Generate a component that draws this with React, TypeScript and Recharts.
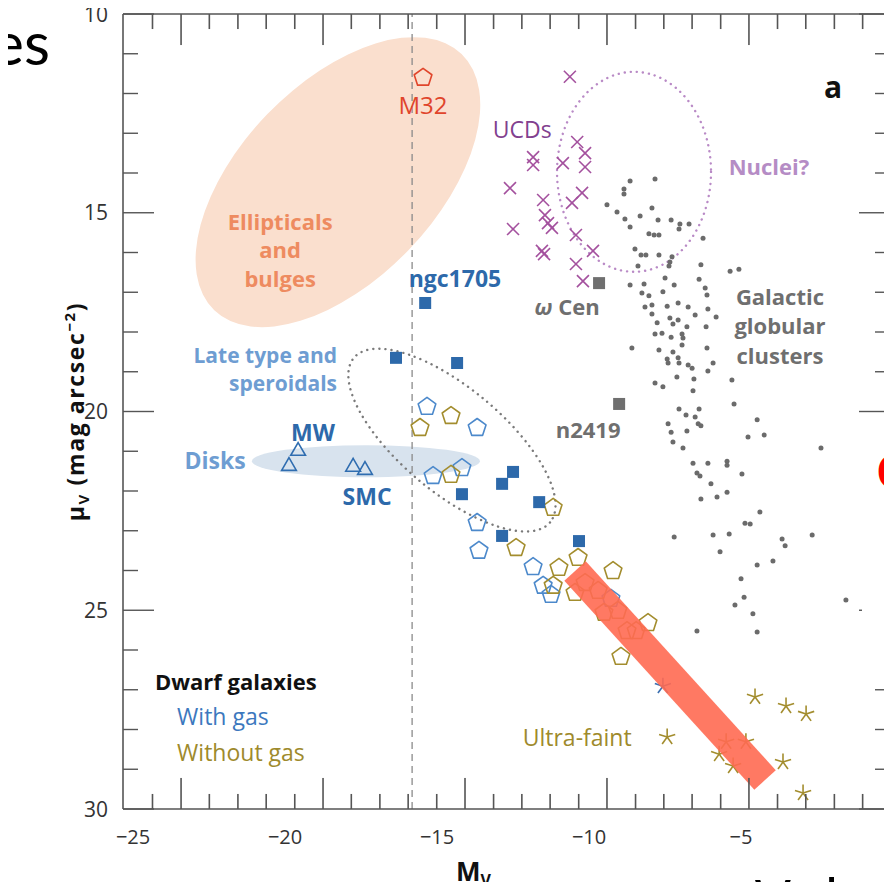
import React from 'react';
import { ScatterChart, Scatter, XAxis, YAxis, ReferenceLine, ReferenceDot } from 'recharts';

const FONT = "'Open Sans', 'DejaVu Sans', sans-serif";
const FRAME = '#555555';

// ---- axes ----
const X_DOMAIN: [number, number] = [-25.33, -0.1];
const X_LABELS = [-25, -20, -15, -10, -5, 0];
// frame tick marks along M_V (long and short), drawn on the top and bottom frame
const X_FRAME_MAJOR = [-23.42, -18.75, -14.08, -9.41, -4.74];
const X_FRAME_MINOR = [
  -24.36, -22.49, -21.55, -20.62, -19.68, -17.82, -16.88, -15.95, -15.01, -13.14, -12.21, -11.28, -10.34,
  -8.47, -7.54, -6.61, -5.67, -3.8, -2.87, -1.93, -1.0,
];
const Y_TOP = 10;
const Y_BOTTOM = 30;
const Y_TICKS = [10, 11, 12, 13, 14, 15, 16, 17, 18, 19, 20, 21, 22, 23, 24, 25, 26, 27, 28, 29, 30];

// ---- data: [M_V, mu_V] ----
const globularClusters: [number, number][] = [
  [-8.65, 14.2], [-7.83, 14.15], [-8.85, 14.4], [-8.85, 14.53], [-9.41, 14.8], [-9.08, 14.98], [-8.32, 15.08], [-7.93, 14.88],
  [-8.82, 15.16], [-7.73, 15.18], [-7.3, 15.18], [-8.65, 15.36], [-7.01, 15.28], [-6.71, 15.28], [-7.04, 15.41], [-8.03, 15.53],
  [-7.86, 15.56], [-7.7, 15.56], [-6.25, 15.64], [-8.49, 15.91], [-8.29, 16.06], [-8.13, 16.06], [-7.7, 16.06], [-7.27, 16.11],
  [-7.34, 16.24], [-7.37, 16.34], [-8.39, 16.34], [-6.32, 16.31], [-5.36, 16.47], [-5.07, 16.42], [-7.5, 16.64], [-6.38, 16.67],
  [-8.65, 16.82], [-8.19, 16.79], [-7.2, 16.82], [-6.18, 16.89], [-8.26, 17.02], [-7.57, 16.99], [-6.12, 17.07], [-8.03, 17.09],
  [-8.16, 17.37], [-7.93, 17.32], [-7.93, 17.55], [-7.43, 17.35], [-7.07, 17.27], [-6.74, 17.37], [-6.51, 17.57], [-6.09, 17.42],
  [-5.82, 17.62], [-7.76, 17.77], [-7.34, 17.65], [-7.24, 17.8], [-7.07, 17.7], [-6.78, 17.87], [-6.15, 17.87], [-7.83, 18.05],
  [-7.6, 18.03], [-7.3, 18.13], [-6.94, 18.05], [-6.91, 18.15], [-8.59, 18.4], [-7.7, 18.45], [-7.24, 18.5], [-6.94, 18.33],
  [-6.12, 18.4], [-7.43, 18.68], [-7.4, 18.78], [-7.07, 18.65], [-7.04, 18.78], [-6.74, 18.83], [-6.61, 18.91], [-5.92, 18.78],
  [-6.09, 18.98], [-7.11, 19.13], [-6.55, 19.18], [-5.3, 19.21], [-7.83, 19.28], [-7.57, 19.38], [-6.58, 19.48], [-5.23, 19.81],
  [-7.04, 19.94], [-6.81, 20.09], [-6.38, 19.94], [-6.51, 20.14], [-6.41, 20.31], [-6.32, 20.36], [-7.4, 20.31], [-7.3, 20.52],
  [-7.24, 20.77], [-6.91, 20.92], [-6.78, 20.49], [-4.47, 20.21], [-4.77, 20.64], [-4.24, 20.59], [-2.37, 20.92], [-6.58, 21.3],
  [-6.09, 21.3], [-5.46, 21.25], [-5.46, 21.35], [-6.45, 21.55], [-6.35, 21.62], [-4.97, 21.57], [-5.99, 21.82], [-5.46, 22.03],
  [-5.79, 22.15], [-6.32, 22.2], [-4.38, 22.53], [-4.87, 22.81], [-4.7, 22.83], [-7.2, 23.16], [-5.92, 23.11], [-5.39, 23.08],
  [-3.65, 23.21], [-3.55, 23.38], [-2.66, 23.11], [-5.69, 23.53], [-4.47, 23.86], [-3.95, 23.76], [-5.0, 24.21], [-4.9, 24.67],
  [-1.55, 24.74], [-5.2, 24.87], [-4.61, 25.09], [-6.45, 25.52], [-4.47, 25.55],
];

const ucds: [number, number][] = [
  [-10.63, 11.58], [-10.39, 13.22], [-10.13, 13.5], [-11.84, 13.6], [-11.84, 13.8], [-10.86, 13.75], [-10.13, 13.85],
  [-12.6, 14.38], [-11.51, 14.68], [-10.23, 14.5], [-10.56, 14.75], [-11.45, 15.06], [-11.35, 15.26], [-11.22, 15.38],
  [-12.5, 15.41], [-10.43, 15.56], [-11.55, 15.96], [-11.48, 16.04], [-9.87, 15.96], [-10.43, 16.29], [-10.2, 16.72],
];

const gasRichSquares: [number, number][] = [
  [-15.39, 17.27], [-16.35, 18.65], [-14.34, 18.78], [-12.5, 21.52], [-12.86, 21.82], [-14.18, 22.08], [-11.64, 22.28],
  [-12.86, 23.13], [-10.33, 23.26],
];

const namedClusters: [number, number][] = [
  [-9.67, 16.77], // omega Cen
  [-9.01, 19.81], // NGC 2419
];

const gasRichPentagons: [number, number][] = [
  [-15.33, 19.86], [-13.68, 20.39], [-14.18, 21.4], [-15.13, 21.6], [-13.68, 22.78], [-13.62, 23.48], [-11.84, 23.89],
  [-11.51, 24.36], [-11.25, 24.59], [-9.28, 24.69],
];

const gasPoorPentagons: [number, number][] = [
  [-15.56, 20.39], [-14.54, 20.09], [-14.54, 21.57], [-11.18, 22.4], [-12.4, 23.41], [-10.99, 23.91], [-10.36, 23.66],
  [-9.21, 23.99], [-11.18, 24.36], [-10.46, 24.54], [-10.13, 24.29], [-9.7, 24.49], [-9.51, 25.04], [-9.05, 24.99],
  [-8.75, 25.5], [-8.45, 25.5], [-8.06, 25.3], [-8.95, 26.15],
];

const m32: [number, number][] = [[-15.46, 11.58]];

const disks: [number, number][] = [[-19.57, 20.97], [-19.87, 21.35], [-17.76, 21.37], [-17.37, 21.45]];

const ultraFaintGasPoor: [number, number][] = [
  [-4.54, 27.18], [-3.52, 27.41], [-2.86, 27.61], [-7.43, 28.19], [-5.49, 28.31], [-4.84, 28.31], [-5.72, 28.62],
  [-5.26, 28.92], [-3.62, 28.82], [-2.96, 29.6],
];
const ultraFaintGasRich: [number, number][] = [[-7.57, 26.91]];

// region centres (M_V, mu_V)
const REG_ELLIPTICALS = { x: -18.26, y: 14.23 };
const REG_NUCLEI = { x: -8.52, y: 13.97 };
const REG_LATE = { x: -14.51, y: 20.72 };
const REG_DISKS = { x: -17.34, y: 21.25 };
const MV_LIMIT = -15.82;
const BAND = [{ x: -10.46, y: 24.01 }, { x: -4.21, y: 29.27 }];

// annotations: [text, M_V, mu_V, style]
const NOTES: [string, number, number, string][] = [
  ['M32', -15.46, 12.29, 'm32'],
  ['Ellipticals', -20.16, 15.23, 'ell'],
  ['and', -20.16, 15.94, 'ell'],
  ['bulges', -20.16, 16.67, 'ell'],
  ['UCDs', -12.2, 12.92, 'ucd'],
  ['Nuclei?', -4.08, 13.85, 'nuc'],
  ['a', -1.97, 11.84, 'panel'],
  ['ngc1705', -14.41, 16.67, 'blueBold'],
  ['ω Cen', -10.72, 17.37, 'grayBold'],
  ['Galactic', -3.72, 17.12, 'grayBold'],
  ['globular', -3.72, 17.85, 'grayBold'],
  ['clusters', -3.72, 18.6, 'grayBold'],
  ['n2419', -10.03, 20.47, 'grayBold'],
  ['Late type and', -18.29, 18.6, 'lightBlueEnd'],
  ['speroidals', -18.29, 19.3, 'lightBlueEnd'],
  ['MW', -19.08, 20.54, 'blueBold'],
  ['Disks', -22.3, 21.25, 'lightBlue'],
  ['SMC', -17.3, 22.15, 'blueBold'],
  ['Dwarf galaxies', -24.28, 26.81, 'legendHead'],
  ['With gas', -23.55, 27.69, 'legendGas'],
  ['Without gas', -23.55, 28.59, 'legendNoGas'],
  ['Ultra-faint', -10.39, 28.21, 'ultra'],
];

const NOTE_STYLE: Record<string, { color: string; weight: number; size: number; anchor: string }> = {
  m32: { color: '#E0452B', weight: 500, size: 24, anchor: 'middle' },
  ell: { color: '#EE8B60', weight: 700, size: 22, anchor: 'middle' },
  ucd: { color: '#82408F', weight: 500, size: 23, anchor: 'middle' },
  nuc: { color: '#B58CC5', weight: 700, size: 22, anchor: 'middle' },
  panel: { color: '#111111', weight: 700, size: 30, anchor: 'middle' },
  blueBold: { color: '#2D69AA', weight: 700, size: 23, anchor: 'middle' },
  grayBold: { color: '#6F6F6F', weight: 700, size: 22, anchor: 'middle' },
  lightBlueEnd: { color: '#6E9DD2', weight: 700, size: 21, anchor: 'end' },
  lightBlue: { color: '#6E9DD2', weight: 700, size: 23, anchor: 'middle' },
  legendHead: { color: '#111111', weight: 700, size: 22, anchor: 'start' },
  legendGas: { color: '#3C78BE', weight: 400, size: 23, anchor: 'start' },
  legendNoGas: { color: '#9E8A2C', weight: 400, size: 23, anchor: 'start' },
  ultra: { color: '#9E8A2C', weight: 400, size: 23, anchor: 'middle' },
};

const toPts = (arr: [number, number][]) => arr.map(([x, y]) => ({ x, y }));

// ---- shapes ----
const polyPoints = (cx: number, cy: number, r: number, n: number) =>
  Array.from({ length: n }, (_, k) => {
    const a = ((-90 + (360 / n) * k) * Math.PI) / 180;
    return `${cx + r * Math.cos(a)},${cy + r * Math.sin(a)}`;
  }).join(' ');

const pentagon = (color: string) => (p: any) => (
  <polygon points={polyPoints(p.cx, p.cy + 0.8, 9.3, 5)} fill="none" stroke={color} strokeWidth={1.6} strokeLinejoin="round" />
);
const triangle = (color: string) => (p: any) => (
  <polygon points={polyPoints(p.cx, p.cy + 1, 8.5, 3)} fill="none" stroke={color} strokeWidth={1.6} />
);
const square = (color: string) => (p: any) => <rect x={p.cx - 6} y={p.cy - 6} width={12} height={12} fill={color} />;
const dot = (color: string) => (p: any) => <circle cx={p.cx} cy={p.cy} r={2.5} fill={color} />;
const cross = (color: string) => (p: any) => (
  <g stroke={color} strokeWidth={1.6}>
    <line x1={p.cx - 6} y1={p.cy - 6} x2={p.cx + 6} y2={p.cy + 6} />
    <line x1={p.cx - 6} y1={p.cy + 6} x2={p.cx + 6} y2={p.cy - 6} />
  </g>
);
const asterisk = (color: string) => (p: any) => (
  <g stroke={color} strokeWidth={1.6}>
    {[0, 1, 2, 3, 4].map((k) => {
      const a = ((-90 + 72 * k) * Math.PI) / 180;
      return <line key={k} x1={p.cx} y1={p.cy} x2={p.cx + 8.5 * Math.cos(a)} y2={p.cy + 8.5 * Math.sin(a)} />;
    })}
  </g>
);
// vertical stub on a frame edge, drawn as a thin filled rectangle (dir 1 = downwards, -1 = upwards)
const stubShape = (len: number, dir: number) => (p: any) => {
  const cx = Number(p.cx);
  const cy = Number(p.cy);
  if (!Number.isFinite(cx) || !Number.isFinite(cy)) return <g />;
  const y0 = dir > 0 ? cy : cy - len;
  return <rect x={cx - 0.8} y={y0} width={1.6} height={len} fill={FRAME} />;
};

// ---- ticks ----
const BottomLabel = (props: any) => {
  const { x, y, payload } = props;
  const v = payload.value;
  return (
    <text x={x} y={y + 35} textAnchor="middle" fontSize={20} fill="#333" fontFamily={FONT}>
      {v < 0 ? `\u2212${Math.abs(v)}` : `${v}`}
    </text>
  );
};
const LeftTick = (props: any) => {
  const { x, y, payload } = props;
  const major = payload.value % 5 === 0;
  return (
    <g>
      <line x1={x} x2={x + (major ? 31 : 15)} y1={y} y2={y} stroke={FRAME} strokeWidth={1.4} />
      {major && (
        <text x={x - 15} y={y} dy="0.36em" textAnchor="end" fontSize={21} fill="#333" fontFamily={FONT}>
          {payload.value}
        </text>
      )}
    </g>
  );
};
const RightTick = (props: any) => {
  const { x, y, payload } = props;
  const len = payload.value % 5 === 0 ? 31 : 15;
  return <line x1={x} x2={x - len} y1={y} y2={y} stroke={FRAME} strokeWidth={1.4} />;
};
const MvLabel = (props: any) => {
  const vb = props.viewBox || { x: 0, y: 0 };
  return (
    <text x={vb.x + 333} y={vb.y + 72} fontSize={26} fontWeight={700} fill="#111" fontFamily={FONT}>
      M<tspan fontSize={16} dy={5}>V</tspan>
    </text>
  );
};
const MuLabel = (props: any) => {
  const vb = props.viewBox || { x: 0, y: 0, height: 0 };
  const cx = vb.x + 76;
  const cy = vb.y + vb.height / 2;
  return (
    <text x={cx} y={cy} transform={`rotate(-90 ${cx} ${cy})`} textAnchor="middle" dy="0.35em" fontSize={23} letterSpacing={1.6} fontWeight={700} fill="#111" fontFamily={FONT}>
      μ<tspan fontSize={15} dy={5}>V</tspan>
      <tspan dy={-5}> (mag arcsec</tspan>
      <tspan fontSize={15} dy={-9}>−2</tspan>
      <tspan dy={9}>)</tspan>
    </text>
  );
};

const noteShape = (text: string, key: string) => (p: any) => {
  const s = NOTE_STYLE[key];
  if (text.startsWith('ω')) {
    return (
      <text x={p.cx} y={p.cy} dy="0.36em" textAnchor={s.anchor as any} fontSize={s.size} fontWeight={s.weight} fill={s.color} fontFamily={FONT}>
        <tspan fontStyle="italic">ω</tspan>
        {text.slice(1)}
      </text>
    );
  }
  return (
    <text x={p.cx} y={p.cy} dy="0.36em" textAnchor={s.anchor as any} fontSize={s.size} fontWeight={s.weight} fill={s.color} fontFamily={FONT}>
      {text}
    </text>
  );
};

const ellipseShape = (rx: number, ry: number, rot: number, style: any) => (p: any) => (
  <ellipse cx={p.cx} cy={p.cy} rx={rx} ry={ry} transform={`rotate(${rot} ${p.cx} ${p.cy})`} {...style} />
);

// stubs as notes-like reference dots, sitting a hair inside the frame
const STUBS: [number, number, number, number][] = [
  ...X_FRAME_MAJOR.map((v) => [v, Y_TOP + 0.001, 31, 1] as [number, number, number, number]),
  ...X_FRAME_MAJOR.map((v) => [v, Y_BOTTOM - 0.001, 31, -1] as [number, number, number, number]),
  ...X_FRAME_MINOR.map((v) => [v, Y_TOP + 0.001, 15, 1] as [number, number, number, number]),
  ...X_FRAME_MINOR.map((v) => [v, Y_BOTTOM - 0.001, 15, -1] as [number, number, number, number]),
];

export default function App() {
  const common = { xAxisId: 'd', yAxisId: 'l', isAnimationActive: false } as const;
  return (
    <div style={{ position: 'relative', margin: -8, width: 892, height: 890, overflow: 'hidden', background: '#fff' }}>
      <ScatterChart width={892} height={890} margin={{ top: 13, right: 1, bottom: 21, left: 0 }}>
        <ReferenceDot xAxisId="d" yAxisId="l" x={REG_ELLIPTICALS.x} y={REG_ELLIPTICALS.y} r={0} zIndex={-60}
          shape={ellipseShape(178, 98, -46, { fill: '#FADFCE' })} />
        <ReferenceDot xAxisId="d" yAxisId="l" x={REG_DISKS.x} y={REG_DISKS.y} r={0} zIndex={-60}
          shape={ellipseShape(114, 16, 0, { fill: '#D8E3EE' })} />
        <ReferenceLine xAxisId="d" yAxisId="l" x={MV_LIMIT} stroke="#8A8A8A" strokeWidth={1.3} strokeDasharray="7 5" zIndex={-40} />
        <ReferenceDot xAxisId="d" yAxisId="l" x={REG_NUCLEI.x} y={REG_NUCLEI.y} r={0} zIndex={-30}
          shape={ellipseShape(77, 100, 0, { fill: 'none', stroke: '#B98AC6', strokeWidth: 2.4, strokeDasharray: '0.1 6', strokeLinecap: 'round' })} />
        <ReferenceDot xAxisId="d" yAxisId="l" x={REG_LATE.x} y={REG_LATE.y} r={0} zIndex={-30}
          shape={ellipseShape(128, 52, 40, { fill: 'none', stroke: '#7A7A7A', strokeWidth: 2.4, strokeDasharray: '0.1 6', strokeLinecap: 'round' })} />

        <XAxis
          xAxisId="d" type="number" dataKey="x" domain={X_DOMAIN} allowDataOverflow ticks={X_LABELS} interval={0}
          tickSize={0} tickMargin={0} tickLine={false} axisLine={{ stroke: FRAME, strokeWidth: 1.6 }} tick={<BottomLabel />}
          height={60} label={<MvLabel />}
        />
        <XAxis
          xAxisId="t" type="number" dataKey="x" orientation="top" domain={X_DOMAIN} allowDataOverflow ticks={[]}
          tickLine={false} tick={false} axisLine={{ stroke: FRAME, strokeWidth: 1.6 }} height={1}
        />
        <YAxis
          yAxisId="l" type="number" dataKey="y" domain={[Y_TOP, Y_BOTTOM]} reversed allowDataOverflow ticks={Y_TICKS} interval={0}
          tickSize={0} tickMargin={0} tickLine={false} axisLine={{ stroke: FRAME, strokeWidth: 1.6 }} tick={<LeftTick />}
          width={123} label={<MuLabel />}
        />
        <YAxis
          yAxisId="r" type="number" orientation="right" domain={[Y_TOP, Y_BOTTOM]} reversed allowDataOverflow ticks={Y_TICKS}
          interval={0} tickSize={0} tickMargin={0} tickLine={false} axisLine={{ stroke: FRAME, strokeWidth: 1.6 }}
          tick={<RightTick />} width={1}
        />

        <Scatter {...common} data={toPts(globularClusters)} shape={dot('#6B6B6B')} />
        <Scatter {...common} data={toPts(ucds)} shape={cross('#A4519E')} />
        <Scatter {...common} data={toPts(namedClusters)} shape={square('#6F6F6F')} />
        <Scatter {...common} data={toPts(disks)} shape={triangle('#2F6DB0')} />
        <Scatter {...common} data={toPts(gasRichPentagons)} shape={pentagon('#4C89CB')} />
        <Scatter {...common} data={toPts(gasPoorPentagons)} shape={pentagon('#A38D2E')} />
        <Scatter {...common} data={toPts(gasRichSquares)} shape={square('#2D69AA')} />
        <Scatter {...common} data={toPts(m32)} shape={pentagon('#E0452B')} />
        <Scatter {...common} data={toPts(ultraFaintGasPoor)} shape={asterisk('#A38D2E')} />
        <Scatter {...common} data={toPts(ultraFaintGasRich)} shape={asterisk('#3B6FB0')} />

        <ReferenceLine xAxisId="d" yAxisId="l" segment={BAND} stroke="#FF6A52" strokeOpacity={0.9} strokeWidth={29} zIndex={650} />

        {NOTES.map(([t, x, y, k], i) => (
          <ReferenceDot key={i} xAxisId="d" yAxisId="l" x={x} y={y} r={0} zIndex={700} shape={noteShape(t, k)} />
        ))}
        {STUBS.map(([x, y, len, dir], i) => (
          <ReferenceDot key={`s${i}`} xAxisId="d" yAxisId="l" x={x} y={y} r={0} zIndex={700} shape={stubShape(len, dir)} />
        ))}
      </ScatterChart>
      <svg width={892} height={890} style={{ position: 'absolute', left: 0, top: 0, pointerEvents: 'none' }}>
        <text x={50} y={65} textAnchor="end" fontSize={60} fill="#000" fontFamily="Lato, 'Open Sans', sans-serif">es</text>
        <rect x={862} y={430} width={30} height={253} fill="#fff" />
        <text x={876} y={488} fontSize={46} fontWeight={700} fill="#FF0000" fontFamily={FONT}>C</text>
        <text x={755} y={923} fontSize={60} fill="#000" fontFamily={FONT}>Valu</text>
      </svg>
    </div>
  );
}
